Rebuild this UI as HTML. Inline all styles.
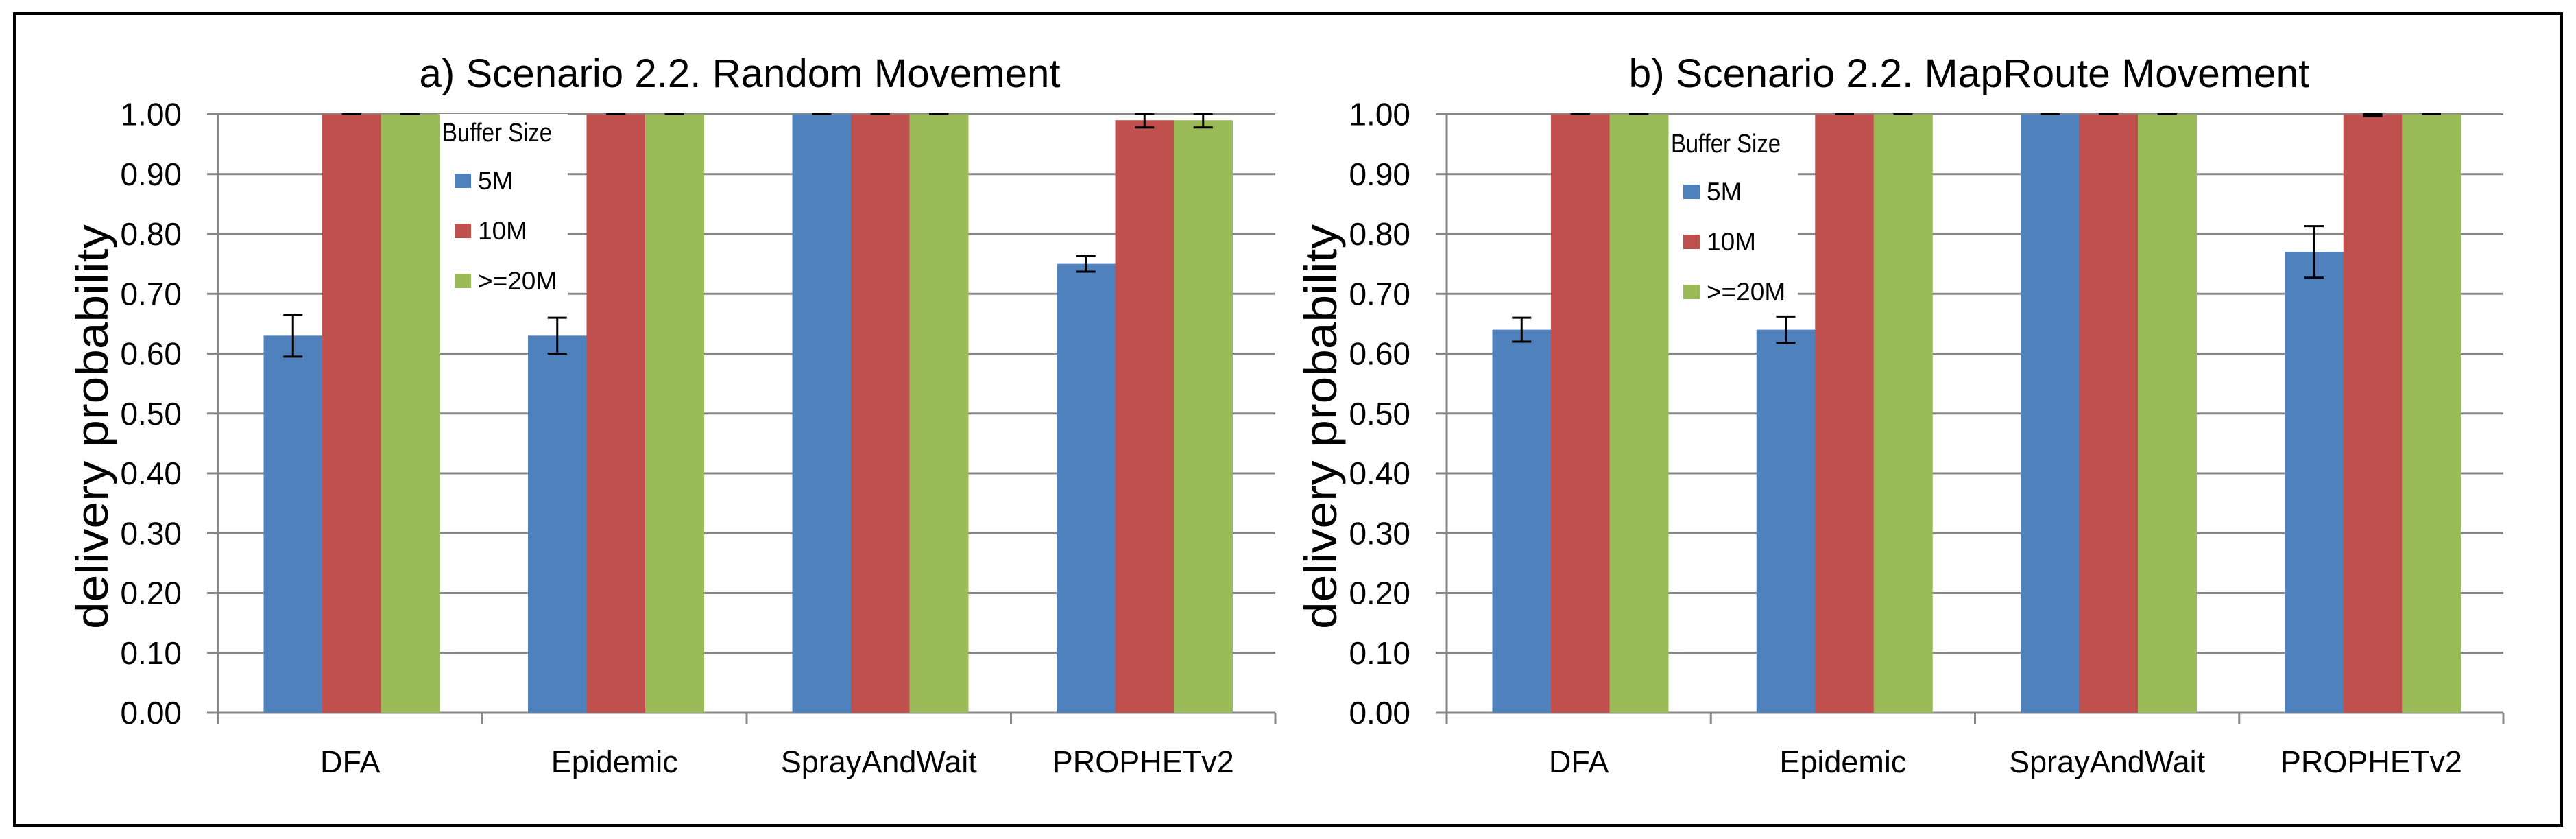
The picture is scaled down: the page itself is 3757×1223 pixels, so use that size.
<!DOCTYPE html>
<html><head><meta charset="utf-8"><title>Delivery probability charts</title>
<style>html,body{margin:0;padding:0;background:#fff}svg{display:block}</style></head>
<body>
<svg id="fig" xmlns="http://www.w3.org/2000/svg" width="3757" height="1223" viewBox="0 0 3757 1223">
<rect x="0" y="0" width="3757" height="1223" fill="#fff"/>
<rect x="21" y="20" width="3715" height="1183" fill="none" stroke="#000" stroke-width="4"/>
</svg>
<script>
const categories = ["DFA", "Epidemic", "SprayAndWait", "PROPHETv2"];
const seriesNames = ["5M", "10M", ">=20M"];
const yTicks = [0, 0.1, 0.2, 0.3, 0.4, 0.5, 0.6, 0.7, 0.8, 0.9, 1.0];
const yTickLabels = ["0.00","0.10","0.20","0.30","0.40","0.50","0.60","0.70","0.80","0.90","1.00"];
// Chart a) Random Movement
const randomValues5M = [0.63, 0.63, 1.00, 0.75];
const randomValues10M = [1.00, 1.00, 1.00, 0.99];
const randomValues20M = [1.00, 1.00, 1.00, 0.99];
const randomErr5M = [0.035, 0.03, 0.0, 0.013];
const randomErr10M = [0.0, 0.0, 0.0, 0.012];
const randomErr20M = [0.0, 0.0, 0.0, 0.012];
// Chart b) MapRoute Movement
const maprouteValues5M = [0.64, 0.64, 1.00, 0.77];
const maprouteValues10M = [1.00, 1.00, 1.00, 1.00];
const maprouteValues20M = [1.00, 1.00, 1.00, 1.00];
const maprouteErr5M = [0.02, 0.022, 0.0, 0.043];
const maprouteErr10M = [0.0, 0.0, 0.0, 0.003];
const maprouteErr20M = [0.0, 0.0, 0.0, 0.0];

const NS = "http://www.w3.org/2000/svg";
const svg = document.getElementById("fig");
const colors = ["#4F81BD", "#C0504D", "#9BBB59"];
const FONT = '"Liberation Sans", sans-serif';

function mk(tag, attrs, parent) {
  const e = document.createElementNS(NS, tag);
  for (const k in attrs) e.setAttribute(k, attrs[k]);
  (parent || svg).appendChild(e);
  return e;
}

function drawChart(cfg) {
  const g = mk("g", {});
  
  
  const top = 166.5, bottom = 1039;
  const yScale = v => bottom - v * (bottom - top);
  const gw = (cfg.right - cfg.left) / categories.length;
  const xGroup = i => cfg.left + i * gw;
  const barW = 85.5, barOff = 66.5;

  // gridlines + ticks
  yTicks.forEach((t, i) => {
    const y = yScale(t);
    const ln = mk("line", {x1: cfg.left - 16, x2: cfg.right, y1: y, y2: y, stroke: "#878787", "stroke-width": 3}, g);
    
    
    const tx = mk("text", {x: cfg.left - 53, y: y + 16, "text-anchor": "end", "font-family": FONT, "font-size": 46, fill: "#000"}, g);
    tx.textContent = yTickLabels[i];
    
    
  });
  const ya = mk("line", {x1: cfg.left, x2: cfg.left, y1: top, y2: bottom + 17, stroke: "#878787", "stroke-width": 3}, g);
  
  
  for (let i = 1; i <= categories.length; i++) {
    const tk = mk("line", {x1: xGroup(i), x2: xGroup(i), y1: bottom, y2: bottom + 17, stroke: "#878787", "stroke-width": 3}, g);
    
    
  }

  // legend background (drawn before bars? it's over gridlines only)
  const lg = mk("g", {}, g);
  
  
  const lb = mk("rect", {x: cfg.legX, y: cfg.legY, width: cfg.legW, height: 285, fill: "#fff"}, lg);
  
  

  // bars
  const vals = cfg.values, errs = cfg.errs;
  categories.forEach((c, i) => {
    vals.forEach((arr, s) => {
      const x = xGroup(i) + barOff + s * barW;
      const y = yScale(arr[i]);
      const r = mk("rect", {x: x, y: y, width: barW + 0.5, height: bottom - y, fill: colors[s]}, g);
      
      
    });
  });
  // error bars
  categories.forEach((c, i) => {
    vals.forEach((arr, s) => {
      const cx = xGroup(i) + barOff + s * barW + barW / 2;
      const e = errs[s][i];
      const y1 = yScale(Math.min(arr[i] + e, 1.0)), y2 = yScale(arr[i] - e);
      const eg = mk("g", {stroke: "#000", "stroke-width": 3}, g);
      
      
      mk("line", {x1: cx, x2: cx, y1: y1, y2: y2}, eg);
      mk("line", {x1: cx - 14, x2: cx + 14, y1: y1, y2: y1}, eg);
      mk("line", {x1: cx - 14, x2: cx + 14, y1: y2, y2: y2}, eg);
    });
  });

  // x labels
  categories.forEach((c, i) => {
    const t = mk("text", {x: xGroup(i) + gw / 2, y: 1126, "text-anchor": "middle", "font-family": FONT, "font-size": 45, fill: "#000"}, g);
    t.textContent = c;
    
    
  });

  // legend content
  const lt = mk("text", {x: cfg.legX + 6, y: cfg.legY + 40, "font-family": FONT, "font-size": 38, fill: "#000", textLength: 160, lengthAdjust: "spacingAndGlyphs"}, lg);
  lt.textContent = "Buffer Size";
  
  
  seriesNames.forEach((n, s) => {
    const by = cfg.legY + 110 + s * 73;
    const sw = mk("rect", {x: cfg.legX + 24, y: by - 23, width: 24, height: 21, fill: colors[s]}, lg);
    
    
    const tx = mk("text", {x: cfg.legX + 58, y: by, "font-family": FONT, "font-size": 37, fill: "#000"}, lg);
    tx.textContent = n;
    
    
  });

  // title
  const tt = mk("text", {x: cfg.titleX, y: 127, "text-anchor": "middle", "font-family": FONT, "font-size": 58, fill: "#000", textLength: cfg.titleLen, lengthAdjust: "spacingAndGlyphs"}, g);
  tt.textContent = cfg.title;
  
  
  // y axis title
  const yt = mk("text", {x: 0, y: 0, "text-anchor": "middle", "font-family": FONT, "font-size": 66, fill: "#000", textLength: 590, lengthAdjust: "spacingAndGlyphs", transform: "translate(" + (cfg.left - 161) + ",622) rotate(-90)"}, g);
  yt.textContent = "delivery probability";
  
  
}

drawChart({name: "chart-random-movement", left: 318, right: 1860, legX: 639, legY: 166, legW: 189,
  title: "a) Scenario 2.2. Random Movement", titleX: 1079, titleLen: 935,
  values: [randomValues5M, randomValues10M, randomValues20M], errs: [randomErr5M, randomErr10M, randomErr20M]});
drawChart({name: "chart-maproute-movement", left: 2110, right: 3651, legX: 2431, legY: 182, legW: 191,
  title: "b) Scenario 2.2. MapRoute Movement", titleX: 2872, titleLen: 993,
  values: [maprouteValues5M, maprouteValues10M, maprouteValues20M], errs: [maprouteErr5M, maprouteErr10M, maprouteErr20M]});
</script>
</body></html>
